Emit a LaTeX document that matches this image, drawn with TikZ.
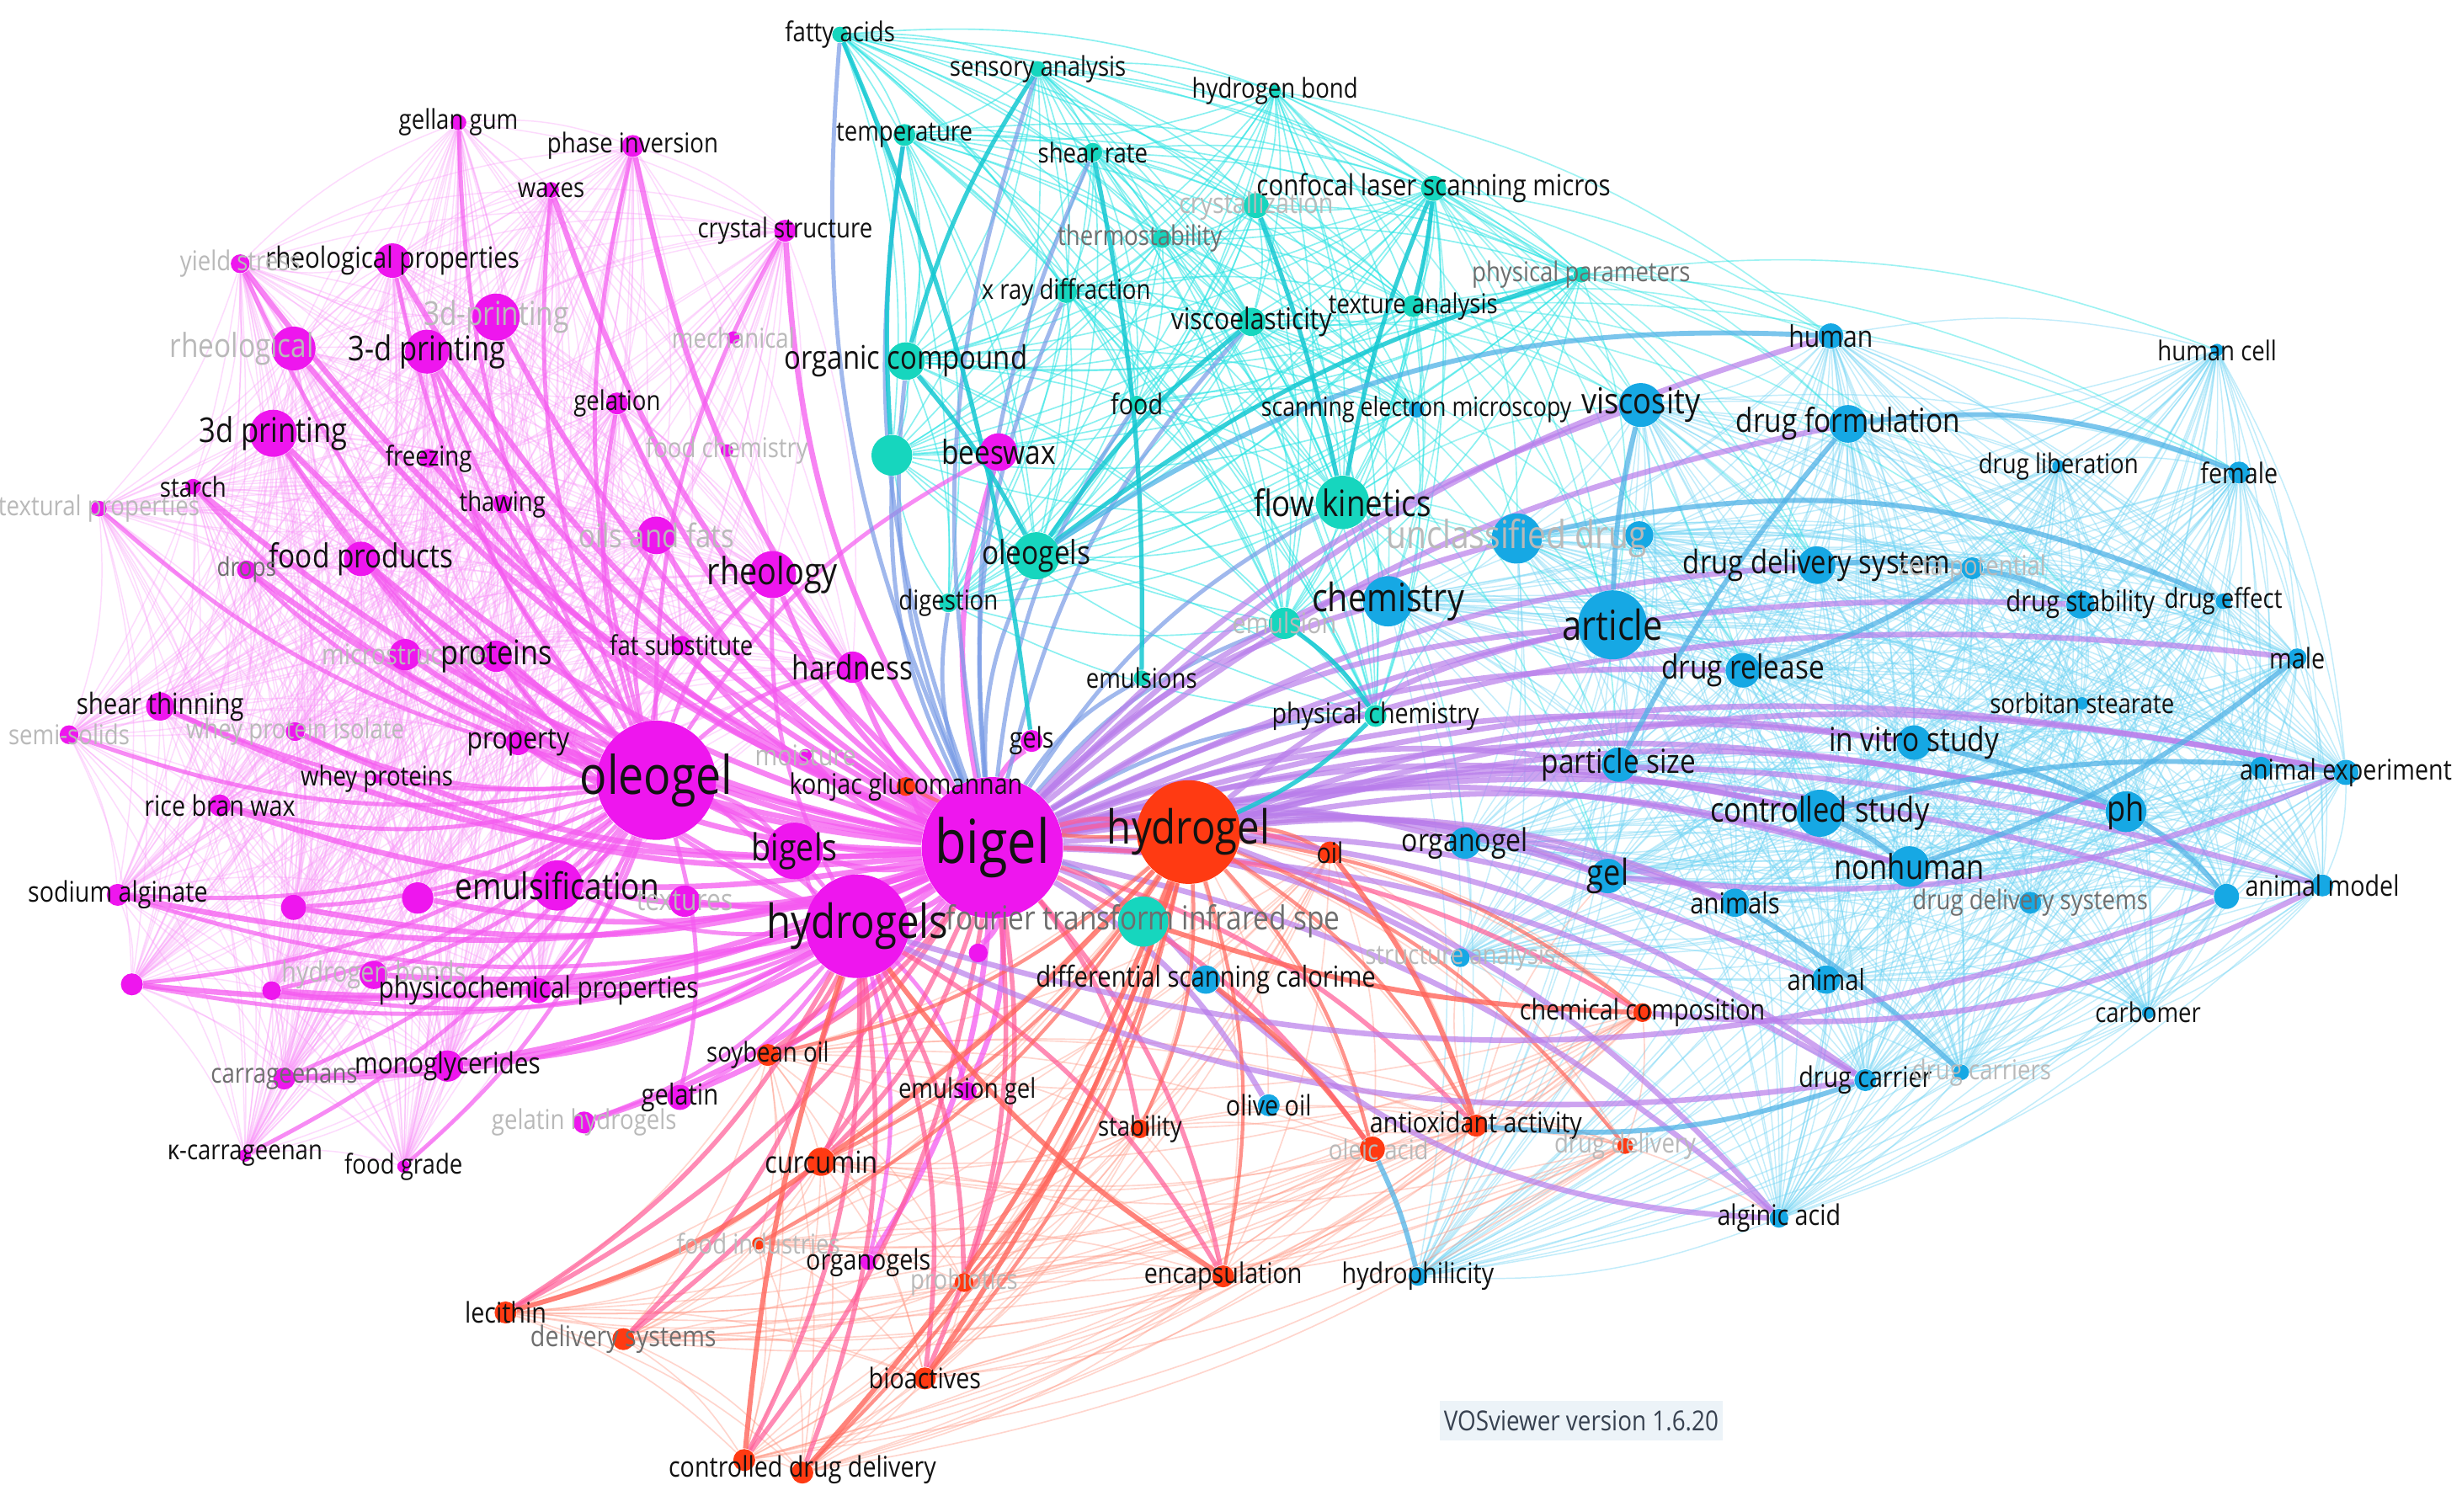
\documentclass[tikz,border=0pt]{standalone}
\usepackage{fontspec}
\setmainfont{Open Sans}[FakeStretch=0.85]
\pgfdeclarelayer{bg}\pgfdeclarelayer{edges}\pgfdeclarelayer{labels}
\pgfsetlayers{bg,edges,main,labels}
\definecolor{mg}{RGB}{238,22,238}
\definecolor{tl}{RGB}{22,214,190}
\definecolor{bl}{RGB}{22,168,228}
\definecolor{rd}{RGB}{255,58,18}
\definecolor{emg}{RGB}{245,90,240}
\definecolor{emgl}{RGB}{250,150,250}
\definecolor{etl}{RGB}{40,228,228}
\definecolor{etlk}{RGB}{20,200,210}
\definecolor{ebl}{RGB}{110,212,245}
\definecolor{eblk}{RGB}{80,178,230}
\definecolor{epu}{RGB}{185,125,235}
\definecolor{erd}{RGB}{255,150,130}
\definecolor{erdk}{RGB}{255,100,90}
\definecolor{ebt}{RGB}{120,155,230}
\definecolor{epr}{RGB}{255,90,150}
\definecolor{lab}{RGB}{18,18,18}
\definecolor{fade}{RGB}{185,185,185}
\definecolor{semif}{RGB}{110,110,110}
\definecolor{verbg}{RGB}{236,243,248}
\definecolor{vertx}{RGB}{55,65,80}
\tikzset{
 kwn/.style={circle,inner sep=0pt,draw=none},
 kwl/.style={inner sep=0pt,text=lab},
 fsz/.style={font=\fontsize{#1}{#1}\selectfont},
 faded/.style={text=fade},
 semi/.style={text=semif},
 thinmg/.style={draw=emgl,line width=0.45pt,opacity=0.35},
 thintl/.style={draw=etl,line width=0.5pt,opacity=0.55},
 thinbl/.style={draw=ebl,line width=0.45pt,opacity=0.42},
 thinrd/.style={draw=erd,line width=0.5pt,opacity=0.4},
 hubmg/.style={draw=emg,line width=2pt,opacity=0.75},
 hubmgm/.style={draw=emg,line width=1.5pt,opacity=0.7},
 hubbt/.style={draw=ebt,line width=1.5pt,opacity=0.7},
 hubpu/.style={draw=epu,line width=2pt,opacity=0.7},
 hubpr/.style={draw=epr,line width=1.7pt,opacity=0.7},
 hubrd/.style={draw=erdk,line width=1.3pt,opacity=0.7},
 thktl/.style={draw=etlk,line width=1.6pt,opacity=0.85},
 thkbl/.style={draw=eblk,line width=1.8pt,opacity=0.75},
 thkrd/.style={draw=erdk,line width=1.8pt,opacity=0.8},
 tlbl/.style={draw=etl,line width=0.5pt,opacity=0.45},
}
\newcommand\kw[7]{\node[kwn,fill=#5,minimum size=#4*0.04cm] (#1) at (#2,#3) {};%
\begin{pgfonlayer}{labels}\node[kwl,#7] (#1-l) at (#2,#3) {#6};\end{pgfonlayer}}
\newcommand\kwu[5]{\node[kwn,fill=#5,minimum size=#4*0.04cm] (#1) at (#2,#3) {};}
\newcommand\hub[3]{\foreach \b in {#3} {\draw[#1] (#2) to[bend left=14] (\b);}}
\newcommand\clq[2]{\foreach \a [count=\i] in {#2} {\foreach \b [count=\j] in {#2} {\ifnum\j>\i\relax\draw[#1] (\a) to[bend left=12] (\b);\fi}}}
\begin{document}
\begin{tikzpicture}[x=0.02cm,y=-0.02cm]
\useasboundingbox (0,0) rectangle (1568,963);
\begin{pgfonlayer}{bg}\fill[white] (0,0) rectangle (1568,963);\end{pgfonlayer}
% ---------- magenta cluster
\kw{bigel}{632}{540}{45}{mg}{bigel}{fsz=22}
\kw{oleogel}{418}{497}{38}{mg}{oleogel}{fsz=19.3}
\kw{hydrogels}{546}{590}{33}{mg}{hydrogels}{fsz=17}
\kw{bigels}{506}{542}{18}{mg}{bigels}{fsz=13.5}
\kw{emulsif}{355}{564}{16}{mg}{emulsification}{fsz=13.3}
\kw{tdpf}{316}{202}{15}{mg}{3d-printing}{fsz=12,faded}
\kw{tdp}{272}{224}{14}{mg}{3-d printing}{fsz=12.4}
\kw{rheologi}{187}{222}{14}{mg}{rheological}{fsz=12,faded,xshift=-0.66cm}
\kw{tdprint}{174}{276}{15}{mg}{3d printing}{fsz=12.4}
\kw{rheoprop}{250}{166}{11}{mg}{rheological properties}{fsz=10.6}
\kw{yield}{153}{168}{6}{mg}{yield stress}{fsz=9.9,faded}
\kw{gellan}{292}{78}{5}{mg}{gellan gum}{fsz=9.9}
\kw{phase}{403}{93}{7}{mg}{phase inversion}{fsz=9.9}
\kw{waxes}{351}{121}{5}{mg}{waxes}{fsz=9.9}
\kw{crystal}{500}{147}{7}{mg}{crystal structure}{fsz=9.9}
\kw{mech}{467}{215}{4}{mg}{mechanical}{fsz=9.9,faded}
\kw{gelation}{393}{257}{7}{mg}{gelation}{fsz=9.9}
\kw{foodchem}{463}{287}{4}{mg}{food chemistry}{fsz=9.9,faded}
\kw{freezing}{273}{292}{6}{mg}{freezing}{fsz=9.9}
\kw{thawing}{320}{321}{6}{mg}{thawing}{fsz=9.9}
\kw{starch}{123}{310}{5}{mg}{starch}{fsz=9.9}
\kw{textural}{63}{324}{5}{mg}{textural properties}{fsz=9.9,faded}
\kw{oilsfats}{418}{341}{12}{mg}{oils and fats}{fsz=11.8,faded}
\kw{rheology}{492}{366}{15}{mg}{rheology}{fsz=13.6}
\kw{foodprod}{230}{356}{11}{mg}{food products}{fsz=12}
\kw{drops}{157}{363}{6}{mg}{drops}{fsz=9.4,semi}
\kw{micro}{258}{417}{10}{mg}{microstructure}{fsz=10.3,faded}
\kw{proteins}{316}{418}{10}{mg}{proteins}{fsz=12.3}
\kw{fatsub}{434}{411}{6}{mg}{fat substitute}{fsz=9.9}
\kw{hardness}{543}{425}{10}{mg}{hardness}{fsz=12}
\kw{shearthin}{102}{450}{9}{mg}{shear thinning}{fsz=10.6}
\kw{semisol}{44}{468}{6}{mg}{semi-solids}{fsz=9.9,faded}
\kw{wpi}{188}{466}{6}{mg}{whey protein isolate}{fsz=9.9,faded}
\kw{property}{330}{473}{8}{mg}{property}{fsz=10.8}
\kw{moisture}{513}{481}{4}{mg}{moisture}{fsz=10.3,faded}
\kw{wheyprot}{240}{496}{3}{mg}{whey proteins}{fsz=9.9}
\kw{ricebran}{140}{513}{7}{mg}{rice bran wax}{fsz=10.3}
\kw{sodalg}{75}{570}{7}{mg}{sodium alginate}{fsz=10.3}
\kw{textures}{436}{574}{10}{mg}{textures}{fsz=10.8,faded}
\kwu{m1}{266}{572}{10}{mg}
\kwu{m2}{187}{578}{8}{mg}
\kw{hbonds}{238}{621}{9}{mg}{hydrogen bonds}{fsz=10.3,faded}
\kwu{m3}{84}{627}{7}{mg}
\kwu{m4}{173}{631}{6}{mg}
\kw{physchem}{343}{631}{8}{mg}{physicochemical properties}{fsz=10.7}
\kw{monogly}{285}{679}{10}{mg}{monoglycerides}{fsz=10.7}
\kw{carrag}{181}{687}{7}{mg}{carrageenans}{fsz=9.9,semi}
\kw{gelatin}{433}{699}{8}{mg}{gelatin}{fsz=10.5}
\kw{gelhyd}{372}{715}{7}{mg}{gelatin hydrogels}{fsz=9.9,faded}
\kw{kcarr}{156}{736}{4}{mg}{κ-carrageenan}{fsz=9.9}
\kw{foodgrade}{257}{743}{4}{mg}{food grade}{fsz=9.9}
\kw{emgel}{616}{695}{6}{mg}{emulsion gel}{fsz=9.9}
\kw{organogels}{553}{804}{5}{mg}{organogels}{fsz=10.3}
\kw{gels}{657}{472}{7}{mg}{gels}{fsz=10.3}
\kwu{m5}{623}{607}{6}{mg}
\kw{beeswax}{636}{288}{12}{mg}{beeswax}{fsz=12}
% ---------- teal cluster
\kw{fatty}{535}{22}{5}{tl}{fatty acids}{fsz=9.9}
\kw{sensory}{661}{44}{5}{tl}{sensory analysis}{fsz=9.9}
\kw{hbond}{812}{58}{4}{tl}{hydrogen bond}{fsz=9.9}
\kw{temp}{576}{86}{7}{tl}{temperature}{fsz=9.9}
\kw{shearrate}{696}{97}{6}{tl}{shear rate}{fsz=9.9}
\kw{confocal}{913}{120}{8}{tl}{confocal laser scanning micros}{fsz=10.6}
\kw{crystall}{800}{131}{8}{tl}{crystallization}{fsz=10.3,faded}
\kw{thermo}{740}{152}{6}{tl}{thermostability}{fsz=9.9,semi,xshift=-0.28cm}
\kw{physparam}{1007}{175}{5}{tl}{physical parameters}{fsz=9.9,semi}
\kw{xray}{679}{186}{7}{tl}{x ray diffraction}{fsz=9.9}
\kw{texana}{900}{195}{7}{tl}{texture analysis}{fsz=9.9}
\kw{viscoel}{797}{205}{9}{tl}{viscoelasticity}{fsz=10.8}
\kw{orgcomp}{577}{230}{12}{tl}{organic compound}{fsz=11.8}
\kw{food}{724}{257}{5}{tl}{food}{fsz=10.3}
\kw{sem}{902}{261}{5}{bl}{scanning electron microscopy}{fsz=9.6}
\kwu{t1}{568}{290}{13}{tl}
\kw{flowkin}{855}{320}{17}{tl}{flow kinetics}{fsz=13.2}
\kw{oleogels}{660}{354}{15}{tl}{oleogels}{fsz=12}
\kw{digestion}{604}{384}{6}{tl}{digestion}{fsz=9.9}
\kw{emulsion}{818}{397}{10}{tl}{emulsion}{fsz=10.3,faded}
\kw{emulsions}{727}{432}{5}{tl}{emulsions}{fsz=9.9}
\kw{physchm}{876}{456}{7}{tl}{physical chemistry}{fsz=10.3}
\kw{ftir}{728}{587}{16}{tl}{fourier transform infrared spe}{fsz=12,semi}
% ---------- blue cluster
\kw{human}{1166}{214}{8}{bl}{human}{fsz=10.8}
\kw{humancell}{1412}{223}{4}{bl}{human cell}{fsz=9.9}
\kw{viscosity}{1045}{258}{14}{bl}{viscosity}{fsz=13}
\kw{drugform}{1177}{270}{12}{bl}{drug formulation}{fsz=12}
\kw{druglib}{1311}{297}{4}{bl}{drug liberation}{fsz=9.9}
\kw{female}{1426}{301}{7}{bl}{female}{fsz=10.3}
\kw{unclass}{966}{343}{16}{bl}{unclassified drug}{fsz=14,faded}
\kwu{b1}{1044}{341}{9}{bl}
\kw{dds}{1157}{360}{12}{bl}{drug delivery system}{fsz=11.8}
\kw{zeta}{1256}{362}{7}{bl}{zeta potential}{fsz=9.9,faded}
\kw{chemistry}{884}{383}{16}{bl}{chemistry}{fsz=14.2}
\kw{drugstab}{1325}{385}{9}{bl}{drug stability}{fsz=10.5}
\kw{drugeff}{1416}{383}{5}{bl}{drug effect}{fsz=9.9}
\kw{article}{1027}{398}{22}{bl}{article}{fsz=15}
\kw{male}{1463}{419}{6}{bl}{male}{fsz=10.3}
\kw{drugrel}{1110}{427}{11}{bl}{drug release}{fsz=12}
\kw{sorbitan}{1326}{448}{4}{bl}{sorbitan stearate}{fsz=9.9}
\kw{invitro}{1219}{473}{11}{bl}{in vitro study}{fsz=12}
\kw{animexp}{1494}{492}{8}{bl}{animal experiment}{fsz=10.3}
\kwu{b2}{1440}{489}{7}{bl}
\kw{partsize}{1031}{487}{11}{bl}{particle size}{fsz=12}
\kw{contstudy}{1159}{518}{15}{bl}{controlled study}{fsz=12.4}
\kw{ph}{1354}{517}{13}{bl}{ph}{fsz=13}
\kw{organogel}{933}{537}{10}{bl}{organogel}{fsz=11.5}
\kw{gel}{1024}{558}{11}{bl}{gel}{fsz=13}
\kw{nonhuman}{1216}{552}{13}{bl}{nonhuman}{fsz=12.4}
\kw{animals}{1105}{575}{9}{bl}{animals}{fsz=10.5}
\kw{ddss}{1293}{575}{7}{bl}{drug delivery systems}{fsz=9.9,semi}
\kw{animmodel}{1479}{564}{7}{bl}{animal model}{fsz=10.3}
\kwu{b3}{1418}{571}{8}{bl}
\kw{structana}{930}{610}{6}{bl}{structure analysis}{fsz=9.9,faded}
\kw{dsc}{768}{624}{9}{bl}{differential scanning calorime}{fsz=10.5}
\kw{animal}{1163}{624}{9}{bl}{animal}{fsz=10.5}
\kw{carbomer}{1368}{645}{4}{bl}{carbomer}{fsz=9.9}
\kw{drugcarrier}{1188}{688}{7}{bl}{drug carrier}{fsz=10.3}
\kw{drugcarriers}{1249}{683}{5}{bl}{drug carriers}{fsz=9.9,faded,xshift=0.26cm}
\kw{oliveoil}{808}{704}{7}{bl}{olive oil}{fsz=10.3}
\kw{alginic}{1133}{776}{6}{bl}{alginic acid}{fsz=10.3}
\kw{hydrophil}{903}{813}{6}{bl}{hydrophilicity}{fsz=10.3}
% ---------- red cluster
\kw{hydrogel}{757}{530}{33}{rd}{hydrogel}{fsz=17}
\kw{konjac}{577}{501}{6}{rd}{konjac glucomannan}{fsz=10.3}
\kw{oil}{847}{543}{7}{rd}{oil}{fsz=10.3}
\kw{chemcomp}{1046}{645}{6}{rd}{chemical composition}{fsz=10.3}
\kw{soybean}{489}{672}{7}{rd}{soybean oil}{fsz=9.9}
\kw{stability}{726}{719}{6}{rd}{stability}{fsz=9.9}
\kw{antiox}{940}{717}{7}{rd}{antioxidant activity}{fsz=10.3}
\kw{oleic}{874}{732}{8}{rd}{oleic acid}{fsz=9.9,faded,xshift=0.08cm}
\kw{drugdeliv}{1035}{730}{5}{rd}{drug delivery}{fsz=9.9,faded}
\kw{curcumin}{523}{740}{9}{rd}{curcumin}{fsz=11}
\kw{foodind}{483}{792}{4}{rd}{food industries}{fsz=9.9,faded}
\kw{probiotics}{614}{817}{6}{rd}{probiotics}{fsz=9.9,faded}
\kw{encaps}{779}{813}{7}{rd}{encapsulation}{fsz=10.3}
\kw{lecithin}{322}{836}{7}{rd}{lecithin}{fsz=10.3}
\kw{delivsys}{397}{853}{7}{rd}{delivery systems}{fsz=10.3,semi}
\kw{bioactives}{589}{878}{7}{rd}{bioactives}{fsz=10.3}
\kwu{cdd}{474}{930}{7}{rd}
\kw{cdd2}{511}{938}{7}{rd}{controlled drug delivery}{fsz=10.3,yshift=0.04cm}
% ---------- version box
\begin{pgfonlayer}{labels}
\node[fill=verbg,minimum width=3.6cm,minimum height=0.5cm,inner sep=0pt,text=vertx,fsz=10] (ver) at (1007,905) {VOSviewer version 1.6.20};
\end{pgfonlayer}
% ---------- edges
\begin{pgfonlayer}{edges}
\clq{thinmg}{tdp,tdprint,rheologi,tdpf,rheoprop,yield,gellan,phase,waxes,crystal,gelation,freezing,thawing,starch,textural,foodprod,drops,proteins,micro,shearthin,semisol,wpi,property,ricebran,sodalg,m1,m2,m3,m4,physchem,monogly,carrag,kcarr,foodgrade,oilsfats,rheology,hardness,fatsub}
\clq{thintl}{fatty,sensory,hbond,temp,shearrate,confocal,crystall,thermo,physparam,xray,texana,viscoel,orgcomp,food,sem,flowkin,oleogels,emulsion,physchm,digestion,t1}
\clq{thinbl}{human,humancell,viscosity,drugform,druglib,female,unclass,b1,dds,zeta,chemistry,drugstab,drugeff,article,male,drugrel,sorbitan,invitro,animexp,b2,partsize,contstudy,ph,organogel,gel,nonhuman,animals,ddss,animmodel,b3,structana,animal,carbomer,drugcarrier,drugcarriers,alginic,hydrophil}
\clq{thinrd}{hydrogel,oil,chemcomp,soybean,stability,antiox,oleic,drugdeliv,curcumin,foodind,probiotics,encaps,lecithin,delivsys,bioactives,cdd,cdd2}
\hub{tlbl}{confocal}{human,viscosity,drugform,article,chemistry,dds,unclass,b1,drugrel,partsize}
\hub{tlbl}{texana}{human,viscosity,drugform,article,chemistry,dds,female,drugstab,contstudy}
\hub{tlbl}{hbond}{human,viscosity,article,chemistry,unclass,dds}
\hub{tlbl}{physparam}{human,humancell,drugform,female,article,drugstab,dds}
\hub{tlbl}{viscoel}{chemistry,article,unclass,viscosity,drugrel,partsize,gel}
\hub{tlbl}{flowkin}{chemistry,article,unclass,viscosity,drugrel,partsize,organogel,gel}
\hub{thinrd}{hydrogel}{dsc,oliveoil,structana,organogel,gel,animals}
\hub{thinrd}{antiox}{dsc,oliveoil,structana,gel,hydrophil,alginic}
% hubs
\hub{hubmg}{bigel}{oleogel,hydrogels,bigels,emulsif,tdp,tdpf,rheologi,tdprint,rheoprop,yield,phase,waxes,crystal,gelation,freezing,thawing,oilsfats,rheology,foodprod,drops,proteins,micro,fatsub,hardness,shearthin,wpi,property,ricebran,sodalg,textures,m1,m2,hbonds,m3,m4,physchem,monogly,carrag,gelatin,gelhyd,emgel,organogels,gels,m5,beeswax,konjac,starch,moisture,wheyprot}
\hub{hubmgm}{oleogel}{hydrogels,bigels,emulsif,tdp,tdprint,rheoprop,phase,waxes,crystal,gelation,oilsfats,rheology,foodprod,proteins,fatsub,hardness,shearthin,property,ricebran,sodalg,m1,m2,m3,m4,physchem,monogly,carrag,gelatin,beeswax,semisol,yield,gellan,starch,textural,drops,wpi,hbonds,kcarr,foodgrade}
\hub{hubmgm}{hydrogels}{bigels,emulsif,tdp,tdprint,rheology,proteins,physchem,monogly,carrag,gelatin,gelhyd,m3,m4,sodalg,organogels,emgel}
\hub{hubpr}{hydrogels}{curcumin,soybean,lecithin,delivsys,bioactives,cdd,cdd2,probiotics,encaps}
\hub{hubbt}{bigel}{fatty,temp,sensory,shearrate,orgcomp,t1,oleogels,digestion,flowkin,emulsion,emulsions,physchm,ftir,xray,viscoel,food}
\hub{hubpu}{bigel}{article,chemistry,unclass,dds,drugrel,partsize,contstudy,ph,organogel,gel,nonhuman,animals,invitro,animal,animexp,animmodel,drugform,human,viscosity,drugstab,drugcarrier,alginic,dsc,oliveoil,structana,b3,male}
\hub{hubpr}{bigel}{hydrogel,soybean,curcumin,stability,antiox,chemcomp,lecithin,delivsys,bioactives,cdd,probiotics,encaps,oleic,oil}
\hub{hubrd}{hydrogel}{oil,soybean,curcumin,stability,antiox,chemcomp,encaps,bioactives,cdd2,probiotics,foodind,oleic,drugdeliv,konjac}
\hub{hubpu}{hydrogel}{article,contstudy,ph,invitro,nonhuman,gel,animexp,drugcarrier,alginic,animals}
% specific strong links
\draw[thktl] (fatty) to[bend left=8] (gels);
\draw[thktl] (sensory) to[bend right=8] (orgcomp);
\draw[thktl] (temp) to[bend right=6] (t1);
\draw[thktl] (shearrate) to[bend left=6] (emulsions);
\draw[thktl] (confocal) to[bend left=4] (texana);
\draw[thktl] (crystall) to[bend left=4] (flowkin);
\draw[thktl] (confocal) to[bend right=6] (flowkin);
\draw[thktl] (physparam) to[bend right=10] (oleogels);
\draw[thktl] (orgcomp) to[bend left=6] (oleogels);
\draw[thktl] (viscoel) to[bend right=8] (oleogels);
\draw[thktl] (emulsion) to[bend left=10] (physchm);
\draw[thktl] (physchm) to[bend left=10] (hydrogel);
\draw[thkbl] (human) to[bend right=18] (oleogels);
\draw[thkbl] (drugform) to[bend left=14] (female);
\draw[thkbl] (drugform) to[bend right=6] (partsize);
\draw[thkbl] (viscosity) to[bend right=6] (article);
\draw[thkbl] (dds) to[bend left=6] (zeta);
\draw[thkbl] (zeta) to[bend left=8] (drugstab);
\draw[thkbl] (unclass) to[bend left=18] (drugeff);
\draw[thkbl] (ph) to[bend left=8] (b3);
\draw[thkbl] (animexp) to[bend right=10] (contstudy);
\draw[thkbl] (male) to[bend left=10] (nonhuman);
\draw[thkbl] (animals) to[bend left=6] (drugcarriers);
\draw[thkbl] (contstudy) to[bend left=6] (nonhuman);
\draw[thkbl] (invitro) to[bend left=6] (ph);
\draw[thkbl] (hydrophil) to[bend right=6] (oleic);
\draw[thkbl] (drugcarrier) to[bend left=12] (antiox);
\draw[thkbl] (zeta) to[bend left=8] (drugrel);
\draw[hubpu] (alginic) to[bend left=20] (dsc);
\draw[hubpu] (animmodel) to[bend left=16] (chemcomp);
\draw[hubpu] (animexp) to[bend left=14] (gel);
\draw[hubpu] (hydrogels) to[bend right=18] (b3);
\draw[hubpu] (hydrogels) to[bend right=16] (drugcarrier);
\draw[thkrd] (lecithin) to[bend right=10] (curcumin);
\draw[thkrd] (curcumin) to[bend right=6] (hydrogel);
\draw[thkrd] (cdd) to[bend left=6] (hydrogels);
\draw[thkrd] (cdd2) to[bend right=10] (hydrogel);
\draw[thkrd] (bioactives) to[bend right=8] (hydrogel);
\draw[thkrd] (encaps) to[bend left=10] (hydrogels);
\draw[thkrd] (oil) to[bend left=10] (antiox);
\draw[thkrd] (oleic) to[bend right=8] (dsc);
\draw[thkrd] (chemcomp) to[bend left=8] (ftir);
\end{pgfonlayer}
\end{tikzpicture}
\end{document}
